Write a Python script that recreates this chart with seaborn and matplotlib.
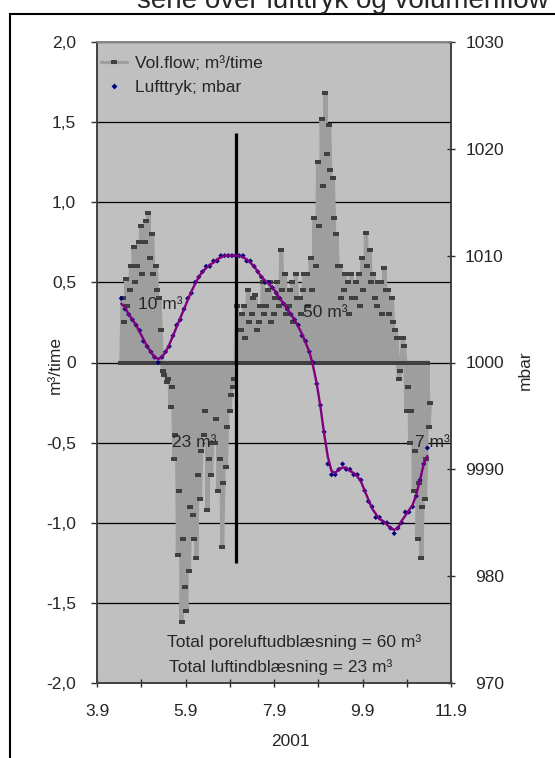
import numpy as np
import pandas as pd
import matplotlib
matplotlib.use("Agg")
import matplotlib.pyplot as plt
from matplotlib.lines import Line2D
from matplotlib.patches import Rectangle
import seaborn as sns

# Time axis: days after 3 Sept 2001 (tick "3.9" = 0)
day_ticks = [0, 2, 4, 6, 8]
day_labels = ["3.9", "5.9", "7.9", "9.9", "11.9"]
minor_days = [1, 3, 5, 7]

# Volume flow, m3/time, 40-minute readings starting at day 0.55
# (pump cycles: each group is idle, peak, tail)
flow_start = 0.55
flow = [
    0, 0.40, 0.25, 0, 0.52, 0.35, 0, 0.45, 0.60, 0, 0.72, 0.50,
    0, 0.60, 0.75, 0, 0.85, 0.55, 0, 0.75, 0.88, 0, 0.93, 0.65,
    0, 0.80, 0.55, 0, 0.60, 0.45, 0, 0.40, 0.20, 0, -0.05, -0.08,
    0, -0.12, -0.10, 0, -0.28, -0.15, 0, -0.60, -0.45, 0, -1.20, -0.80,
    0, -1.62, -1.10, 0, -1.40, -1.55, 0, -1.30, -0.90, 0, -0.95, -1.10,
    0, -1.22, -0.70, 0, -0.85, -0.55, 0, -0.45, -0.30, 0, -0.92, -0.60,
    0, -0.70, -0.50, 0, -0.50, -0.35, 0, -0.80, -0.60, 0, -1.15, -0.75,
    0, -0.65, -0.40, 0, -0.30, -0.20, 0, -0.15, -0.10, 0, 0.35, 0.20,
    0, 0.20, 0.30, 0, 0.35, 0.15, 0, 0.45, 0.25, 0, 0.30, 0.40,
    0, 0.42, 0.20, 0, 0.25, 0.35, 0, 0.50, 0.30, 0, 0.35, 0.45,
    0, 0.50, 0.25, 0, 0.30, 0.40, 0, 0.50, 0.35, 0, 0.70, 0.45,
    0, 0.55, 0.30, 0, 0.35, 0.45, 0, 0.50, 0.25, 0, 0.55, 0.40,
    0, 0.40, 0.30, 0, 0.45, 0.55, 0, 0.55, 0.35, 0, 0.65, 0.45,
    0, 0.90, 0.60, 0, 1.25, 0.85, 0, 1.52, 1.10, 0, 1.68, 1.30,
    0, 1.48, 1.20, 0, 1.15, 0.90, 0, 0.80, 0.60, 0, 0.60, 0.40,
    0, 0.45, 0.55, 0, 0.50, 0.30, 0, 0.55, 0.40, 0, 0.40, 0.50,
    0, 0.55, 0.35, 0, 0.65, 0.45, 0, 0.81, 0.60, 0, 0.70, 0.50,
    0, 0.55, 0.40, 0, 0.35, 0.50, 0, 0.50, 0.30, 0, 0.59, 0.45,
    0, 0.45, 0.30, 0, 0.40, 0.25, 0, 0.20, 0.15, 0, -0.10, -0.05,
    0, 0.15, 0.10, 0, -0.30, -0.15, 0, -0.50, -0.30, 0, -0.80, -0.55,
    0, -1.10, -0.75, 0, -1.22, -0.90, 0, -0.85, -0.60, 0, -0.40, -0.25,
]

# Air pressure, mbar, two-hourly readings starting at day 0.55
pressure_start = 0.55
pressure = [
    1006.0, 1005.0, 1004.5, 1004.0, 1003.5, 1003.0, 1002.0, 1001.5, 1001.0, 1000.5, 1000.0, 1000.5,
    1001.0, 1001.5, 1002.5, 1003.5, 1004.0, 1005.0, 1006.0, 1006.5, 1007.5, 1008.0, 1008.5, 1009.0,
    1009.0, 1009.5, 1009.5, 1010.0, 1010.0, 1010.0, 1010.0, 1010.0, 1010.0, 1010.0, 1009.5, 1009.5,
    1009.0, 1008.5, 1008.0, 1007.5, 1007.5, 1007.0, 1006.5, 1006.0, 1005.5, 1005.0, 1004.5, 1004.0,
    1003.5, 1002.5, 1002.0, 1001.0, 1000.0, 998.0, 996.0, 993.5, 990.5, 989.5, 989.5, 990.0,
    990.5, 990.0, 990.0, 989.5, 989.5, 989.0, 988.0, 987.0, 986.5, 985.5, 985.5, 985.0,
    985.0, 984.5, 984.0, 984.5, 985.0, 986.0, 986.0, 986.5, 987.5, 989.0, 990.5, 992.0,
]

left_ticks = [-2.0, -1.5, -1.0, -0.5, 0.0, 0.5, 1.0, 1.5, 2.0]
left_labels = ["-2,0", "-1,5", "-1,0", "-0,5", "0", "0,5", "1,0", "1,5", "2,0"]
right_ticks = [970, 980, 990, 1000, 1010, 1020, 1030]
right_labels = ["970", "980", "9990", "1000", "1010", "1020", "1030"]

# Volume annotations (day, m3/time)
volume_notes = [
    ("10 m³", 0.93, 0.36),
    ("50 m³", 4.66, 0.31),
    ("23 m³", 1.69, -0.50),
    ("7 m³", 7.19, -0.50),
]
totals = [
    ("Total poreluftudblæsning = 60 m³", 1.58, -1.745),
    ("Total luftindblæsning = 23 m³", 1.63, -1.90),
]
# switch from injection to extraction
switch_day = 3.14
switch_low, switch_high = -1.25, 1.43

sns.set_style("ticks")
plt.rcParams["font.family"] = ["Liberation Sans", "DejaVu Sans"]
FS = 12.5

t_flow = flow_start + np.arange(len(flow)) / 36.0
t_press = pressure_start + np.arange(len(pressure)) / 12.0
df_flow = pd.DataFrame({"dag": t_flow, "flow": flow})
df_p = pd.DataFrame({"dag": t_press, "tryk": pressure})
df_p["glidende"] = df_p["tryk"].rolling(3, center=True, min_periods=1).mean()

fig = plt.figure(figsize=(5.55, 7.58), dpi=100)
ax = fig.add_axes([97 / 555, 1 - 683 / 758, 354 / 555, 641 / 758])
ax.set_facecolor("#C0C0C0")
ax.set_axisbelow(True)

for v in left_ticks:
    ax.axhline(v, color="black", lw=0.9, zorder=0.5)

dash = [(-1.5, -1), (1.5, -1), (1.5, 1), (-1.5, 1), (-1.5, -1)]
sns.lineplot(data=df_flow, x="dag", y="flow", ax=ax, sort=False, estimator=None,
             color="#9E9E9E", lw=3.0, marker=dash, markersize=4.4,
             markerfacecolor="#404040", markeredgecolor="#404040",
             markeredgewidth=0, zorder=2)

ax2 = ax.twinx()
sns.scatterplot(data=df_p, x="dag", y="tryk", ax=ax2, marker="D", s=7,
                color="#000080", edgecolor="none", linewidth=0, zorder=3)
sns.lineplot(data=df_p, x="dag", y="glidende", ax=ax2, color="#800080",
             lw=1.7, zorder=4)

ax.vlines(switch_day, switch_low, switch_high, color="black", lw=2.3, zorder=5)

ax.set_xlim(0, 8)
ax.set_ylim(-2, 2)
ax2.set_ylim(970, 1030)

ax.set_xticks(day_ticks)
ax.set_xticklabels(day_labels, fontsize=FS)
ax.set_xticks(minor_days, minor=True)
ax.set_yticks(left_ticks)
ax.set_yticklabels(left_labels, fontsize=FS)
ax2.set_yticks(right_ticks)
ax2.set_yticklabels(right_labels, fontsize=FS, ha="right")

ax.tick_params(axis="y", direction="out", length=4, width=1, color="#303030", pad=11)
ax.tick_params(axis="x", which="both", direction="inout", length=6, width=1,
               color="#303030", pad=12)
ax2.tick_params(axis="y", direction="inout", length=6, width=1, color="#303030", pad=35)

for a in (ax, ax2):
    for s in ("left", "right", "bottom"):
        a.spines[s].set_color("#404040")
        a.spines[s].set_linewidth(1.2)
    a.spines["top"].set_color("#888888")
    a.spines["top"].set_linewidth(1.2)
    a.set_xlabel("")
    a.set_ylabel("")

for txt, x, y in volume_notes:
    ax2.text(x, 1000 + y * 15, txt, fontsize=FS, ha="left", va="center",
             zorder=6, clip_on=False)
for txt, x, y in totals:
    ax2.text(x, 1000 + y * 15, txt, fontsize=FS, ha="left", va="center", zorder=6)

fig.text(55 / 555, 1 - 365 / 758, "m³/time", rotation=90, fontsize=FS,
         ha="center", va="center")
fig.text(525 / 555, 1 - 370 / 758, "mbar", rotation=90, fontsize=FS,
         ha="center", va="center")
fig.text(290 / 555, 1 - 741 / 758, "2001", fontsize=FS, ha="center", va="center")

# title line running off the top of the page
fig.text(137 / 555, 1 - 8 / 758, "serie over lufttryk og volumenflow",
         fontsize=20, ha="left", va="baseline")

# outer frame running off the page
fig.patches.append(Rectangle((10 / 555, -0.2), 1.5, 1.2 - 14 / 758,
                             transform=fig.transFigure, fill=False,
                             edgecolor="black", lw=1.5))

h_flow = Line2D([], [], color="#9E9E9E", lw=2.3, marker=dash, markersize=4.4,
                markerfacecolor="#404040", markeredgecolor="#404040", markeredgewidth=0)
h_p = Line2D([], [], color="none", marker="D", markersize=3,
             markerfacecolor="#000080", markeredgecolor="none", linestyle="none")
leg = ax2.legend([h_flow, h_p], ["Vol.flow; m³/time", "Lufttryk; mbar"],
                 loc="upper left", bbox_to_anchor=(-0.012, 0.992), frameon=False,
                 fontsize=FS, handlelength=1.5, handletextpad=0.45,
                 labelspacing=0.5, borderpad=0, numpoints=1)
leg.set_zorder(10)

fig.savefig("out.png", dpi=100, facecolor="white")
